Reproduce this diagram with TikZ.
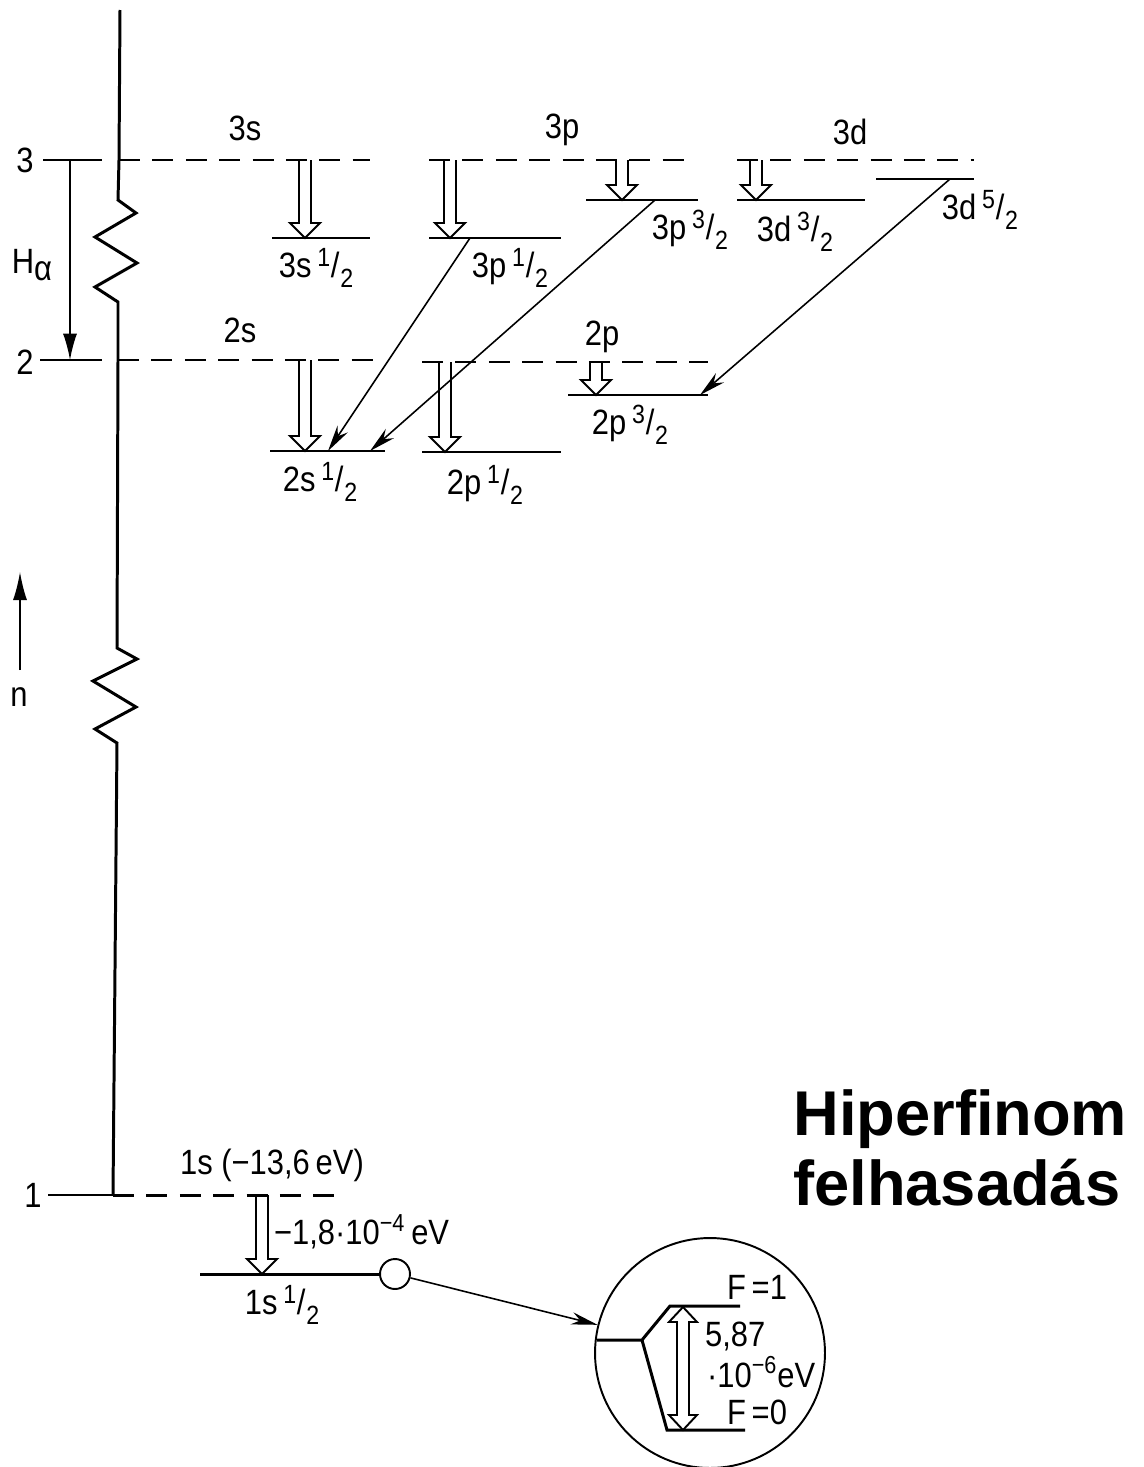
\documentclass[tikz,border=0pt]{standalone}
\usepackage{fontspec}
\setmainfont{Liberation Sans}[FakeStretch=0.88]
\newfontfamily\titlefont{Liberation Sans}
\usetikzlibrary{arrows.meta}

\newcommand{\jfrac}[2]{\raisebox{0.55ex}{\fontsize{15}{15}\selectfont #1}\kern0.02em/\kern0.02em\raisebox{-0.55ex}{\fontsize{15}{15}\selectfont #2}}

\begin{document}
\begin{tikzpicture}[x=0.02cm, y=-0.02cm, >={Stealth[length=15pt,width=7pt]},
  lbl/.style={font=\fontsize{20}{22}\selectfont, inner sep=1pt},
  level/.style={line width=1.7pt},
  virtual/.style={line width=1.7pt, dash pattern=on 12pt off 7pt},
  tick/.style={line width=1pt},
  trans/.style={->, line width=0.9pt},
  hollow/.style={line width=1.1pt, line join=miter}]
  \useasboundingbox (0,0) rectangle (1143,1467);

  % n axis with the broken energy scale
  \coordinate (n3) at (119,160);
  \coordinate (n2) at (118,360);
  \coordinate (n1) at (113,1195);
  \draw[level] (120,10) -- (n3) -- (118,200) -- (136,213) -- (95,237) -- (137,263)
    -- (95,287) -- (118,302) -- (n2) -- (117,648) -- (137,659) -- (93,681)
    -- (136,707) -- (95,729) -- (117,743) -- (n1);

  \node[lbl] (l3) at (25,160) {3};
  \node[lbl] (l2) at (25,362) {2};
  \node[lbl] (l1) at (33,1195) {1};
  \draw[tick] (43,160) -- (102,160);
  \draw[tick] (40,360) -- (102,360);
  \draw[tick] (48,1195) -- (n1);

  \draw[trans, >={Latex[length=15pt,width=8pt]}] (70,160) -- (70,360);
  \node[lbl] (halpha) at (32,265) {H\raisebox{-0.4ex}{α}};
  \draw[trans, >={Latex[length=16pt,width=8pt]}] (20,670) -- (20,572);
  \node[lbl] (nlab) at (19,697) {n};

  % Bohr levels
  \draw[virtual] (n3) -- (370,160);
  \draw[virtual] (429,160) -- (692,160);
  \draw[virtual] (737,160) -- (974,160);
  \draw[virtual] (n2) -- (380,360);
  \draw[virtual] (422,362) -- (708,362);
  \draw[virtual] (n1) -- (345,1195);

  % fine structure levels
  \foreach \xa/\xb/\y in {272/370/238, 429/561/238, 586/698/200, 737/865/200,
      876/974/179, 270/385/451, 422/561/452, 568/708/395, 200/380/1274}
    \draw[level] (\xa,\y) -- (\xb,\y);

  \foreach \x/\ya/\yb in {305/160/238, 450/160/238, 622/160/200, 756/160/200,
      305/360/451, 445/362/452, 596/362/395, 262/1195/1274}
    \draw[hollow] (\x-6,\ya) -- (\x-6,\yb-15) -- (\x-15,\yb-15) -- (\x,\yb)
      -- (\x+15,\yb-15) -- (\x+6,\yb-15) -- (\x+6,\ya);

  \node[lbl] (s3) at (245,128) {3s};
  \node[lbl] (p3) at (562,130) {3p};
  \node[lbl] (d3) at (850,132) {3d};
  \node[lbl] (s2) at (240,330) {2s};
  \node[lbl] (p2) at (602,337) {2p};
  \node[lbl] (s3h) at (316,268) {3s\,\jfrac12};
  \node[lbl] (p3h) at (510,268) {3p\,\jfrac12};
  \node[lbl] (p3t) at (690,230) {3p\,\jfrac32};
  \node[lbl] (d3t) at (795,232) {3d\,\jfrac32};
  \node[lbl] (d3f) at (980,210) {3d\,\jfrac52};
  \node[lbl] (s2h) at (320,482) {2s\,\jfrac12};
  \node[lbl] (p2h) at (485,485) {2p\,\jfrac12};
  \node[lbl] (p2t) at (630,425) {2p\,\jfrac32};

  % allowed transitions
  \coordinate (p3a) at (470,238);
  \coordinate (p3b) at (655,200);
  \coordinate (d3b) at (950,179);
  \coordinate (s2a) at (328,451);
  \coordinate (s2b) at (370,451);
  \coordinate (p2b) at (700,395);
  \draw[trans] (p3a) -- (s2a);
  \draw[trans] (p3b) -- (s2b);
  \draw[trans] (d3b) -- (p2b);

  % ground state and its hyperfine splitting
  \node[lbl] (s1) at (272,1165) {1s (−13,6\,eV)};
  \node[lbl, anchor=west] (shift) at (272,1232) {−1,8·10\textsuperscript{−4}\,eV};
  \node[lbl] (s1h) at (282,1305) {1s\,\jfrac12};
  \node[draw, circle, minimum size=0.6cm, inner sep=0pt, line width=1.1pt] (spot) at (395,1274) {};
  \node[draw, circle, minimum size=4.6cm, inner sep=0pt, line width=1.1pt] (lens) at (710,1353) {};
  \draw[trans] (spot) -- (lens);

  \coordinate (hfs) at (642,1340);
  \draw[level] (597,1340) -- (hfs) -- (670,1306) -- (740,1306);
  \draw[level] (hfs) -- (667,1430) -- (745,1430);
  \draw[hollow] (677,1322) -- (677,1415) -- (669,1415) -- (683,1430) -- (697,1415)
    -- (689,1415) -- (689,1322) -- (697,1322) -- (683,1307) -- (669,1322) -- cycle;
  \node[lbl] (f1) at (757,1287) {F\,=1};
  \node[lbl, anchor=west] (hfval) at (703,1336) {5,87};
  \node[lbl, anchor=west] (hfexp) at (705,1372) {·10\textsuperscript{−6}eV};
  \node[lbl] (f0) at (757,1412) {F\,=0};

  \node[font=\titlefont\bfseries\fontsize{36}{40}\selectfont, anchor=base west, inner sep=0pt]
    (title1) at (793,1135) {Hiperfinom};
  \node[font=\titlefont\bfseries\fontsize{36}{40}\selectfont, anchor=base west, inner sep=0pt]
    (title2) at (793,1205) {felhasadás};
\end{tikzpicture}
\end{document}
